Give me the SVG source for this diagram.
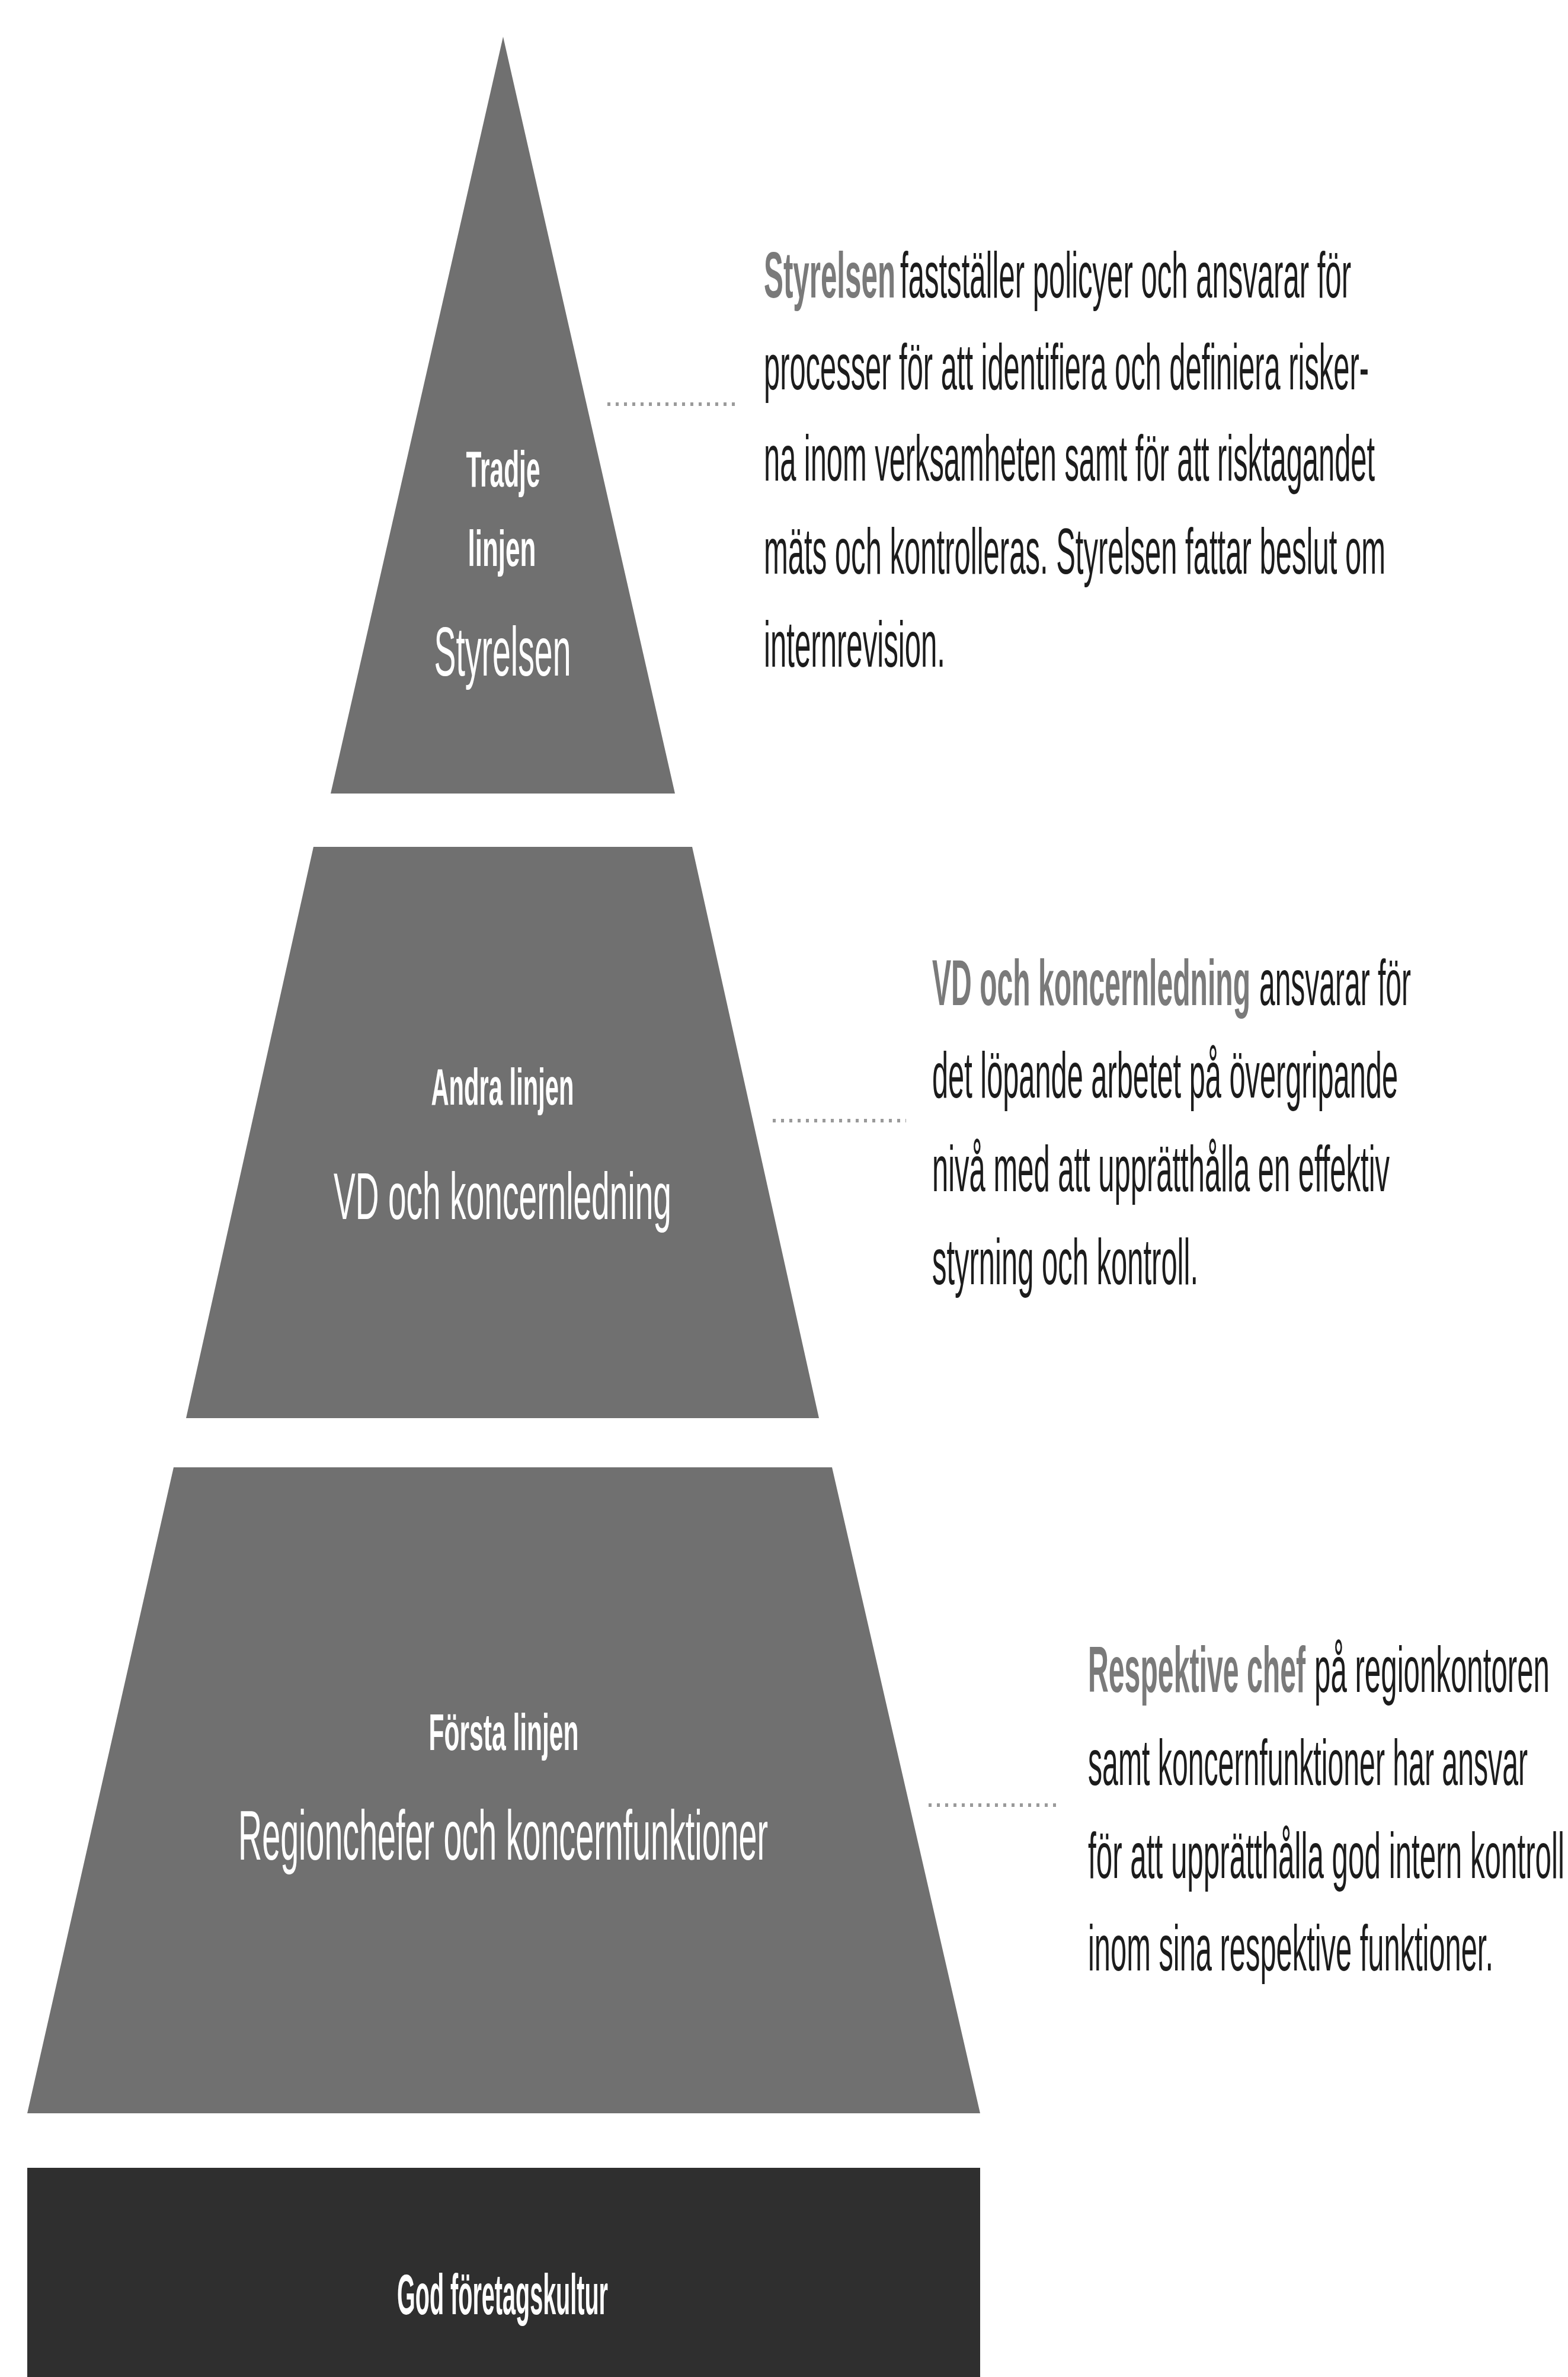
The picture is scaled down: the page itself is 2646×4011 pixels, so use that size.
<svg xmlns="http://www.w3.org/2000/svg" width="2646" height="4011" viewBox="0 0 2646 4011">
<style>
.tier{fill:#707070}
.base{fill:#2f2f2f}
.lbl{font-family:"Liberation Sans Narrow","Liberation Sans",Arial,sans-serif;fill:#ffffff;text-anchor:middle}
.b{font-weight:bold}
.desc{font-family:"Liberation Sans Narrow","Liberation Sans",Arial,sans-serif;font-size:110px;fill:#1c1c1c}
.hl{font-weight:bold;fill:#7a7a7a}
.conn{stroke:#9a9a9a;stroke-width:6;stroke-dasharray:5 9;fill:none}
</style>
<rect width="2646" height="4011" fill="#ffffff"/>
<g id="tier-tredje">
<polygon class="tier" points="849,62 1139,1339 558,1339"/>
<text class="lbl b" transform="translate(849,821) scale(0.45,1)" x="0" y="0" font-size="86" textLength="277.8" lengthAdjust="spacingAndGlyphs">Tradje</text>
<text class="lbl b" transform="translate(847,955) scale(0.45,1)" x="0" y="0" font-size="86" textLength="255.6" lengthAdjust="spacingAndGlyphs">linjen</text>
<text class="lbl" transform="translate(848,1140) scale(0.45,1)" x="0" y="0" font-size="116" textLength="513.3" lengthAdjust="spacingAndGlyphs">Styrelsen</text>
</g>
<g id="tier-andra">
<polygon class="tier" points="529,1429 1168,1429 1382,2393 314,2393"/>
<text class="lbl b" transform="translate(848,1864) scale(0.45,1)" x="0" y="0" font-size="88" textLength="535.6" lengthAdjust="spacingAndGlyphs">Andra linjen</text>
<text class="lbl" transform="translate(848,2057) scale(0.45,1)" x="0" y="0" font-size="112" textLength="1266.7" lengthAdjust="spacingAndGlyphs">VD och koncernledning</text>
</g>
<g id="tier-forsta">
<polygon class="tier" points="293,2476 1404,2476 1654,3566 46,3566"/>
<text class="lbl b" transform="translate(850,2953) scale(0.45,1)" x="0" y="0" font-size="88" textLength="562.2" lengthAdjust="spacingAndGlyphs">Första linjen</text>
<text class="lbl" transform="translate(849,3138) scale(0.45,1)" x="0" y="0" font-size="118" textLength="1986.7" lengthAdjust="spacingAndGlyphs">Regionchefer och koncernfunktioner</text>
</g>
<g id="base-kultur">
<rect class="base" x="46" y="3658" width="1608" height="353"/>
<text class="lbl b" transform="translate(848,3905) scale(0.45,1)" x="0" y="0" font-size="97" textLength="791.1" lengthAdjust="spacingAndGlyphs">God företagskultur</text>
</g>
<g id="connectors">
<line class="conn" x1="1025" y1="682" x2="1244" y2="682"/>
<line class="conn" x1="1304" y1="1891" x2="1529" y2="1891"/>
<line class="conn" x1="1567" y1="3046" x2="1785" y2="3046"/>
</g>
<g id="desc-tredje">
<text class="desc hl" transform="translate(1289,502) scale(0.42,1)" x="0" y="0" textLength="528.6" lengthAdjust="spacingAndGlyphs">Styrelsen</text>
<text class="desc" transform="translate(1519,502) scale(0.42,1)" x="0" y="0" textLength="1811.9" lengthAdjust="spacingAndGlyphs">fastställer policyer och ansvarar för</text>
<text class="desc" transform="translate(1289,657) scale(0.42,1)" x="0" y="0" textLength="2431" lengthAdjust="spacingAndGlyphs">processer för att identifiera och definiera risker-</text>
<text class="desc" transform="translate(1289,811) scale(0.42,1)" x="0" y="0" textLength="2454.8" lengthAdjust="spacingAndGlyphs">na inom verksamheten samt för att risktagandet</text>
<text class="desc" transform="translate(1289,968) scale(0.42,1)" x="0" y="0" textLength="2497.6" lengthAdjust="spacingAndGlyphs">mäts och kontrolleras. Styrelsen fattar beslut om</text>
<text class="desc" transform="translate(1289,1125) scale(0.42,1)" x="0" y="0" textLength="728.6" lengthAdjust="spacingAndGlyphs">internrevision.</text>
</g>
<g id="desc-andra">
<text class="desc hl" transform="translate(1573,1696) scale(0.42,1)" x="0" y="0" textLength="1278.6" lengthAdjust="spacingAndGlyphs">VD och koncernledning</text>
<text class="desc" transform="translate(2125,1696) scale(0.42,1)" x="0" y="0" textLength="609.5" lengthAdjust="spacingAndGlyphs">ansvarar för</text>
<text class="desc" transform="translate(1573,1852) scale(0.42,1)" x="0" y="0" textLength="1871.4" lengthAdjust="spacingAndGlyphs">det löpande arbetet på övergripande</text>
<text class="desc" transform="translate(1573,2010) scale(0.42,1)" x="0" y="0" textLength="1838.1" lengthAdjust="spacingAndGlyphs">nivå med att upprätthålla en effektiv</text>
<text class="desc" transform="translate(1573,2167) scale(0.42,1)" x="0" y="0" textLength="1069" lengthAdjust="spacingAndGlyphs">styrning och kontroll.</text>
</g>
<g id="desc-forsta">
<text class="desc hl" transform="translate(1836,2855) scale(0.42,1)" x="0" y="0" textLength="873.8" lengthAdjust="spacingAndGlyphs">Respektive chef</text>
<text class="desc" transform="translate(2218,2855) scale(0.42,1)" x="0" y="0" textLength="945.2" lengthAdjust="spacingAndGlyphs">på regionkontoren</text>
<text class="desc" transform="translate(1836,3012) scale(0.42,1)" x="0" y="0" textLength="1766.7" lengthAdjust="spacingAndGlyphs">samt koncernfunktioner har ansvar</text>
<text class="desc" transform="translate(1836,3169) scale(0.42,1)" x="0" y="0" textLength="1914.3" lengthAdjust="spacingAndGlyphs">för att upprätthålla god intern kontroll</text>
<text class="desc" transform="translate(1836,3325) scale(0.42,1)" x="0" y="0" textLength="1628.6" lengthAdjust="spacingAndGlyphs">inom sina respektive funktioner.</text>
</g>
</svg>
